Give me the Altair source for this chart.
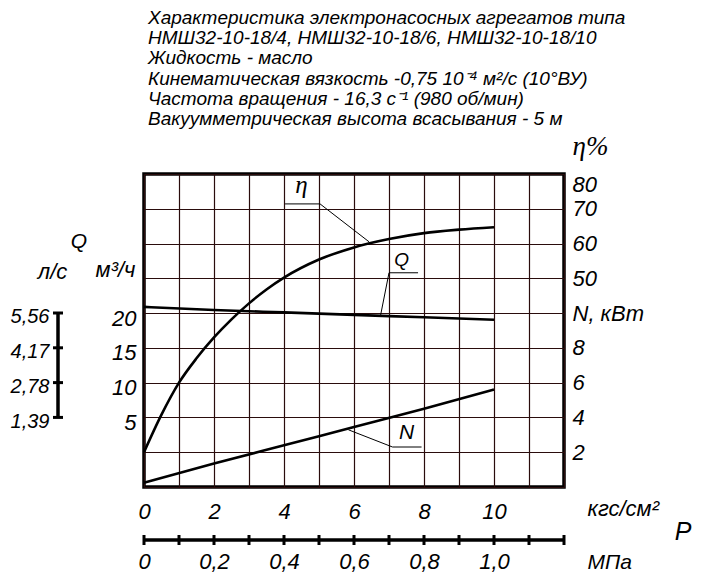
import altair as alt
import pandas as pd

# ---------------- data ----------------
# pressure P, kgf/cm^2
P_eta = [0, 0.5, 1, 1.5, 2, 2.5, 3, 3.5, 4, 5, 6, 7, 8, 9, 10]
eta_pct = [0, 10.8, 20, 27, 33, 38.2, 42.8, 46.8, 50.2, 55.4, 58.9, 61.3, 63, 64, 64.7]

P_qn = [0, 2, 4, 6, 8, 10]
Q_m3h = [20.9, 20.45, 20.1, 19.75, 19.4, 19.05]
N_kw = [0.25, 1.35, 2.4, 3.45, 4.5, 5.6]

# axis tick / label values
P_grid = list(range(0, 13))
P_labels = [0, 2, 4, 6, 8, 10]
eta_grid = list(range(-10, 81, 10))
eta_labels = [50, 60, 70, 80]
N_labels = [2, 4, 6, 8, 10]
Q_labels = [5, 10, 15, 20]
Ls_labels = [1.39, 2.78, 4.17, 5.56]
MPa_ticks = [round(i * 0.1, 1) for i in range(13)]
MPa_labels = [0, 0.2, 0.4, 0.6, 0.8, 1.0]

# leader lines / curve letters (data coordinates of each curve's scale)
eta_lead_P = [4.03, 5.03, 6.43]
eta_lead_v = [71.4, 71.4, 60.5]
eta_tag = ("η", 4.5, 76.7)
Q_lead_P = [7.83, 7.0, 6.76]
Q_lead_v = [25.8, 25.8, 19.7]
Q_tag = ("Q", 7.36, 27.6)
N_lead_P = [5.84, 7.1, 7.93]
N_lead_v = [3.29, 2.3, 2.3]
N_tag = ("N", 7.5, 3.1)

title_lines = [
    "\u00a0Характеристика электронасосных агрегатов типа",
    "НМШ32-10-18/4, НМШ32-10-18/6, НМШ32-10-18/10",
    "Жидкость - масло",
    "Кинематическая вязкость -0,75 10⁻⁴ м²/с (10°ВУ)",
    "Частота вращения - 16,3 с⁻¹ (980 об/мин)",
    "Вакуумметрическая высота всасывания - 5 м",
]

# ---------------- styling ----------------
GOST = "'Liberation Sans Narrow', 'Liberation Sans', sans-serif"
SERIF = "'Liberation Serif', 'DejaVu Serif', serif"
GRID = "#2a0c0c"
FS = 22
LBL = dict(labelFont=GOST, labelFontSize=FS, labelFontStyle="italic",
           labelColor="black", labelFontWeight="normal")
TTL = dict(titleFont=GOST, titleFontSize=FS, titleFontStyle="italic",
           titleColor="black", titleFontWeight="normal", titleAngle=0)

W, H = 420, 313


def xs(axis=None):
    return alt.X("P:Q", scale=alt.Scale(domain=[0, 12], nice=False, zero=False), axis=axis)


def ys(dom, axis=None):
    return alt.Y("v:Q", scale=alt.Scale(domain=dom, nice=False, zero=False), axis=axis)


def curve_parts(P, vals, dom, lead_P, lead_v, tag, tag_font, tag_size, y_axis, x_axis=None):
    df = pd.DataFrame({"P": P, "v": vals})
    line = alt.Chart(df).mark_line(color="black", strokeWidth=2.6, interpolate="monotone").encode(
        x=xs(x_axis), y=ys(dom, y_axis))
    ld = pd.DataFrame({"P": lead_P, "v": lead_v, "o": list(range(len(lead_P)))})
    lead = alt.Chart(ld).mark_line(color="black", strokeWidth=1).encode(
        x=xs(), y=ys(dom), order="o:O")
    td = pd.DataFrame({"t": [tag[0]], "P": [tag[1]], "v": [tag[2]]})
    txt = alt.Chart(td).mark_text(font=tag_font, fontSize=tag_size, fontStyle="italic",
                                  color="black", align="center", baseline="middle").encode(
        x=xs(), y=ys(dom), text="t:N")
    return [line, lead, txt]


x_main_axis = alt.Axis(
    orient="bottom", values=P_grid, grid=True, gridColor=GRID, gridWidth=1.2, gridOpacity=1,
    ticks=False, domain=False, labelFlush=False, labelOverlap=False, labelBound=False,
    labelExpr="indexof([0, 2, 4, 6, 8, 10], datum.value) >= 0 ? datum.label : ''",
    labelPadding=14, labelAngle=0, labelAlign="center", labelBaseline="top",
    title="кгс/см²", titleX=443, titleY=21, titleAlign="left", titleBaseline="middle", **LBL, **TTL)

eta_axis = alt.Axis(
    orient="right", values=eta_grid, grid=True, gridColor=GRID, gridWidth=1.2, gridOpacity=1,
    ticks=False, domain=False, labelFlush=True, labelOverlap=False, labelBound=False,
    labelExpr="datum.value >= 50 ? datum.label : ''",
    labelPadding=8, labelAlign="left",
    title="η%", titleX=8, titleY=-28, titleAlign="left", titleBaseline="middle",
    **LBL, **{**TTL, "titleFont": SERIF, "titleFontSize": 27})

N_axis = alt.Axis(
    orient="right", values=N_labels, grid=False, ticks=False, domain=False,
    labelFlush=False, labelOverlap=False, labelBound=False,
    labelExpr="datum.value == 10 ? 'N,  кВт' : datum.label",
    labelPadding=8, labelAlign="left", labelBaseline="middle", title="", **LBL)

Q_axis = alt.Axis(
    orient="left", values=Q_labels, grid=False, ticks=False, domain=False,
    labelFlush=False, labelOverlap=False, labelBound=False,
    labelPadding=8, labelOffset=5, labelAlign="right", labelBaseline="middle",
    title="м³/ч", titleX=-29, titleY=95, titleAlign="center", titleBaseline="middle", **LBL, **TTL)

eta_parts = curve_parts(P_eta, eta_pct, [-10, 80], eta_lead_P, eta_lead_v, eta_tag, SERIF, 25,
                        eta_axis, x_main_axis)
N_parts = curve_parts(P_qn, N_kw, [0, 18], N_lead_P, N_lead_v, N_tag, GOST, 21, N_axis)
Q_parts = curve_parts(P_qn, Q_m3h, [-5, 40], Q_lead_P, Q_lead_v, Q_tag, GOST, 19, Q_axis)

q_head = alt.Chart(pd.DataFrame({"t": ["Q"]})).mark_text(
    font=GOST, fontSize=21, fontStyle="italic", color="black", align="center", baseline="middle"
).encode(x=alt.value(-65), y=alt.value(68), text="t:N")

# litres per second scale bar (left)
ls_scale = alt.Scale(domain=[-5 / 3.6, 40 / 3.6], nice=False, zero=False)
ls_axis = alt.Axis(
    orient="left", offset=86, values=Ls_labels, grid=False, ticks=False, domain=False,
    labelFlush=False, labelOverlap=False, labelBound=False, format=".2f",
    labelExpr="replace(datum.label, '.', ',')",
    labelPadding=9, labelOffset=4, labelAlign="right", labelBaseline="middle",
    title="л/с", titleX=-6, titleY=97, titleAlign="center", titleBaseline="middle",
    **{**LBL, "labelFontSize": 20}, **TTL)
ls_bar = alt.Chart(pd.DataFrame({"lo": [min(Ls_labels)], "hi": [max(Ls_labels)]})).mark_rule(
    color="black", strokeWidth=3.5).encode(
    x=alt.value(-86), y=alt.Y("lo:Q", scale=ls_scale, axis=None), y2="hi:Q")
ls_ticks = alt.Chart(pd.DataFrame({"v": Ls_labels})).mark_rule(color="black", strokeWidth=3).encode(
    x=alt.value(-91), x2=alt.value(-81), y=alt.Y("v:Q", scale=ls_scale, axis=ls_axis))

# MPa scale bar (bottom)
mpa_scale = alt.Scale(domain=[0, 1.2], nice=False, zero=False)
mpa_axis = alt.Axis(
    orient="bottom", offset=53, values=MPa_labels, grid=False, ticks=False, domain=False,
    labelFlush=False, labelOverlap=False, labelBound=False, format=".1f",
    labelExpr="datum.value == 0 ? '0' : replace(datum.label, '.', ',')",
    labelPadding=11, labelAngle=0, labelAlign="center", labelBaseline="top",
    title="МПа", titleX=443, titleY=22, titleAlign="left", titleBaseline="middle",
    **LBL, **{**TTL, "titleFontSize": 21})
mpa_bar = alt.Chart(pd.DataFrame({"lo": [MPa_ticks[0]], "hi": [MPa_ticks[-1]]})).mark_rule(
    color="black", strokeWidth=3.5).encode(
    x=alt.X("lo:Q", scale=mpa_scale, axis=None), x2="hi:Q", y=alt.value(H + 53))
mpa_ticks = alt.Chart(pd.DataFrame({"v": MPa_ticks})).mark_rule(color="black", strokeWidth=3).encode(
    x=alt.X("v:Q", scale=mpa_scale, axis=mpa_axis), y=alt.value(H + 48), y2=alt.value(H + 58))
p_text = alt.Chart(pd.DataFrame({"t": ["P"]})).mark_text(
    font=GOST, fontSize=25, fontStyle="italic", color="black", align="center", baseline="middle"
).encode(x=alt.value(539), y=alt.value(358), text="t:N")

layers = eta_parts + N_parts + Q_parts + [ls_bar, ls_ticks, mpa_bar, mpa_ticks, q_head, p_text]

chart = alt.layer(*layers).resolve_scale(
    x="independent", y="independent"
).resolve_axis(
    x="independent", y="independent"
).properties(
    width=W, height=H,
    autosize=alt.AutoSizeParams(type="none"),
    padding={"left": 136, "top": 166, "right": 129, "bottom": 88},
    background="white",
    title=alt.TitleParams(
        text=title_lines, anchor="start", frame="group", font="Liberation Sans", fontSize=19,
        fontStyle="italic", fontWeight="normal", color="black", lineHeight=20.2, offset=3, dx=4),
).configure_view(stroke="black", strokeWidth=3.5)

chart.save("out.html", embed_options={"renderer": "svg", "actions": False})
